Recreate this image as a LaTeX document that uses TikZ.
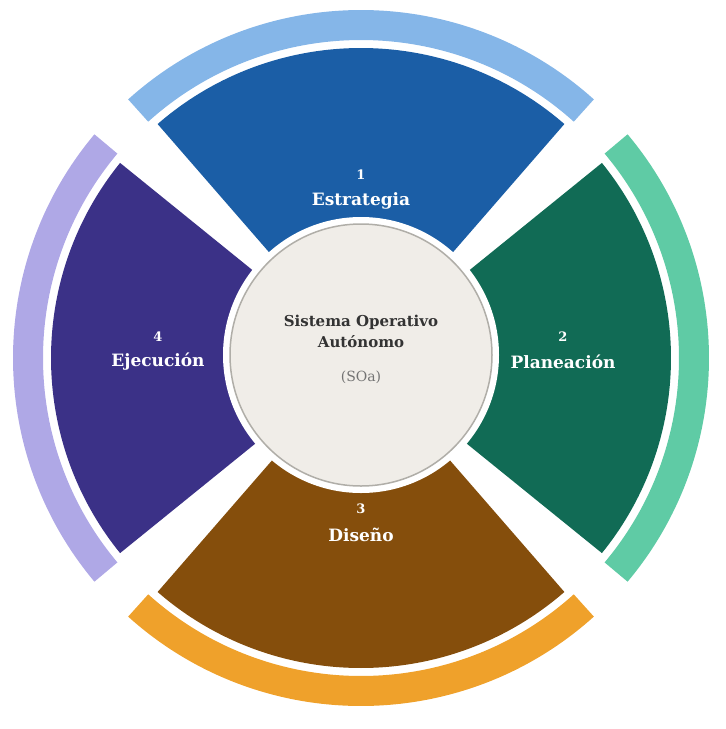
\documentclass[tikz,border=0pt]{standalone}
\usepackage{fontspec}
\setmainfont{DejaVu Serif}
\usetikzlibrary{calc}
\definecolor{cA}{HTML}{1B5EA6}\definecolor{bA}{HTML}{85B6E8}
\definecolor{cB}{HTML}{116B55}\definecolor{bB}{HTML}{5FCBA5}
\definecolor{cC}{HTML}{854E0C}\definecolor{bC}{HTML}{EFA12B}
\definecolor{cD}{HTML}{3B3187}\definecolor{bD}{HTML}{AFA8E6}
\definecolor{core}{HTML}{F0EDE8}\definecolor{coreb}{HTML}{B0AEA8}
\begin{document}
\begin{tikzpicture}[x=1pt,y=-1pt,
 lbl/.style={text=white,font=\fontsize{17}{20}\selectfont\bfseries,align=center},
 num/.style={text=white,font=\fontsize{13}{15}\selectfont\bfseries}]
\useasboundingbox (0,0) rectangle (726,729);
\coordinate (c) at (361,358);
\newcommand{\sect}[4]{% mid angle, half width, fill, band
 \fill[#3] (c) -- ++(#1-#2:310) arc[start angle=#1-#2,end angle=#1+#2,radius=310] -- cycle;
 \fill[#4] ($(c)+(#1-#2-1:318)$) arc[start angle=#1-#2-1,end angle=#1+#2+1,radius=318]
   -- ($(c)+(#1+#2+1:348)$) arc[start angle=#1+#2+1,end angle=#1-#2-1,radius=348] -- cycle;}
\sect{-90}{41}{cA}{bA}
\sect{90}{41}{cC}{bC}
\sect{0}{39}{cB}{bB}
\sect{180}{39}{cD}{bD}
\fill[white] (361,355) circle[radius=138];
\node[circle,fill=core,draw=coreb,line width=1.5pt,minimum size=262pt] (core) at (361,355) {};
\node[font=\fontsize{15}{20}\selectfont\bfseries,text=black!80,align=center] (t) at (361,331) {Sistema Operativo\\[1pt]Autónomo};
\node[text=black!55,font=\fontsize{14}{16}\selectfont] (s) at (361,377) {(SOa)};
\node[num] (n1) at (361,175) {1}; \node[lbl] (l1) at (361,201) {Estrategia};
\node[num] (n2) at (563,337) {2}; \node[lbl] (l2) at (563,362) {Planeación};
\node[num] (n3) at (361,509) {3}; \node[lbl] (l3) at (361,535) {Diseño};
\node[num] (n4) at (158,337) {4}; \node[lbl] (l4) at (158,362) {Ejecución};
\end{tikzpicture}
\end{document}
